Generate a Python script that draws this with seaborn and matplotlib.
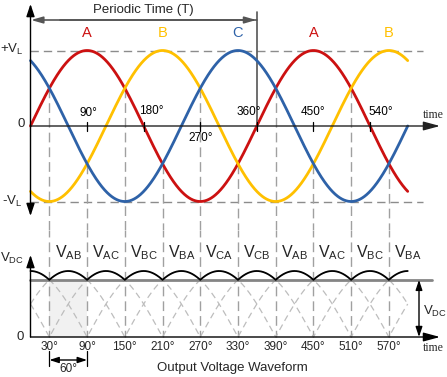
import numpy as np
import pandas as pd
import matplotlib
matplotlib.use("Agg")
import matplotlib.pyplot as plt
import seaborn as sns

# ---------------- data ----------------
phase_names = ["A", "B", "C"]
phase_shift_deg = [0, -120, 120]          # A starts rising at 0, C at +0.866, B at -0.866
phase_colors = ["#CC1111", "#FFC000", "#2E62A8"]
theta_end_deg = 600                        # waveforms are drawn from 0 to 600 degrees

peak_labels = ["A", "B", "C", "A", "B"]
peak_label_deg = [90, 210, 330, 450, 570]

top_tick_deg = [90, 180, 270, 360, 450, 540]
top_tick_labels = ["90°", "180°", "270°", "360°", "450°", "540°"]

crossing_deg = [30, 90, 150, 210, 270, 330, 390, 450, 510, 570]
bottom_tick_labels = ["30°", "90°", "150°", "210°", "270°", "330°", "390°", "450°", "510°", "570°"]

segment_labels = ["AB", "AC", "BC", "BA", "CA", "CB", "AB", "AC", "BC", "BA"]
segment_center_deg = [60, 120, 180, 240, 300, 360, 420, 480, 540, 600]
line_pairs = [("A", "B"), ("B", "C"), ("C", "A")]

period_deg = 360
# ---------------------------------------------------------------

sns.set_style("white")
plt.rcParams["font.family"] = ["Liberation Sans", "DejaVu Sans"]
plt.rcParams["mathtext.fontset"] = "custom"
plt.rcParams["mathtext.rm"] = "Liberation Sans"
plt.rcParams["mathtext.it"] = "Liberation Sans"
plt.rcParams["lines.scale_dashes"] = False

W, H = 447, 377
X0, PXD = 30.5, 0.6287          # pixel of 0 deg, pixels per degree
UY0, UA = 126.0, 75.5           # upper: zero pixel row, pixels per unit
LY0, LA = 337.0, 38.1           # lower: zero pixel row, pixels per unit
SPLIT = 230.0


def xd(px):
    return (px - X0) / PXD


def uy(py):
    return (UY0 - py) / UA


def ly(py):
    return (LY0 - py) / LA


fig = plt.figure(figsize=(W / 100, H / 100), dpi=100)
ax1 = fig.add_axes([0, (H - SPLIT) / H, 1, SPLIT / H])
ax2 = fig.add_axes([0, 0, 1, (H - SPLIT) / H])
for ax in (ax1, ax2):
    ax.set_xlim(xd(0), xd(W))
    ax.axis("off")
ax1.set_ylim(uy(SPLIT), uy(0))
ax2.set_ylim(ly(H), ly(SPLIT))

# phase waveforms
theta = np.linspace(0, theta_end_deg, 1201)
phase_vals = {n: np.sin(np.radians(theta + s)) for n, s in zip(phase_names, phase_shift_deg)}
df = pd.concat([pd.DataFrame({"theta": theta, "v": phase_vals[n], "phase": n}) for n in phase_names])
pal = dict(zip(phase_names, phase_colors))

# dashed reference lines +VL / -VL
for v in (1, -1):
    ax1.plot([0, xd(423)], [v, v], color="#8C8C8C", lw=1.0, linestyle=(0, (6, 3.6)), zorder=1)

# vertical dashed lines through crossings (upper part and lower part)
for d in crossing_deg:
    idx = int(round(d / theta_end_deg * (len(theta) - 1)))
    vals = sorted(phase_vals[n][idx] for n in phase_names)
    start = vals[1]
    ax1.plot([d, d], [start, uy(SPLIT)], color="#A0A0A0", lw=1.0, linestyle=(0, (7, 3.6)), zorder=1)
    ax2.plot([d, d], [ly(SPLIT), 0], color="#A0A0A0", lw=1.0, linestyle=(2, (7, 3.6)), zorder=1)

sns.lineplot(data=df, x="theta", y="v", hue="phase", palette=pal, ax=ax1,
             legend=False, linewidth=2.0, estimator=None, sort=False, zorder=3)
ax1.set_xlim(xd(0), xd(W))
ax1.set_ylim(uy(SPLIT), uy(0))
ax1.axis("off")

# axes arrows (upper)
ax1.annotate("", xy=(xd(440), 0), xytext=(0, 0),
             arrowprops=dict(arrowstyle="-|>,head_length=1.0,head_width=0.27", color="#222222",
                             lw=1.0, shrinkA=0, shrinkB=0), zorder=4)
ax1.annotate("", xy=(0, uy(4)), xytext=(0, uy(216)),
             arrowprops=dict(arrowstyle="<|-|>,head_length=0.75,head_width=0.25", color="black",
                             lw=1.0, shrinkA=0, shrinkB=0), zorder=4)
for d in top_tick_deg:
    ax1.plot([d, d], [uy(121.5), uy(130.5)], color="black", lw=0.9, zorder=4)

top_label_xy = [(xd(88), uy(113)), (xd(151), uy(111)), (xd(200.5), uy(138)),
                (xd(249), uy(112)), (xd(313), uy(112)), (xd(381), uy(112))]
for lab, (x, y) in zip(top_tick_labels, top_label_xy):
    ax1.text(x, y, lab, ha="center", va="center", fontsize=8.5, color="black", zorder=5)

ax1.text(xd(433), uy(115), "time", family=["Liberation Serif"], fontsize=8.5,
         ha="center", va="center")

ax1.text(xd(12), uy(49), r"+V$_\mathrm{L}$", ha="center", va="center", fontsize=9.5)
ax1.text(xd(21), uy(124), "0", ha="center", va="center", fontsize=9.5)
ax1.text(xd(12), uy(201), r"-V$_\mathrm{L}$", ha="center", va="center", fontsize=9.5)

for lab, d in zip(peak_labels, peak_label_deg):
    ax1.text(d, uy(33), lab, ha="center", va="center", fontsize=10.5, color=pal[lab])

# periodic time arrow
ax1.annotate("", xy=(xd(31), uy(20)), xytext=(period_deg, uy(20)),
             arrowprops=dict(arrowstyle="-|>,head_length=0.7,head_width=0.2", color="#555555",
                             lw=1.2, shrinkA=0, shrinkB=0))
ax1.annotate("", xy=(period_deg - 0.8, uy(20)), xytext=(xd(60), uy(20)),
             arrowprops=dict(arrowstyle="-|>,head_length=0.7,head_width=0.2", color="#555555",
                             lw=1.2, shrinkA=0, shrinkB=0))
ax1.plot([period_deg, period_deg], [uy(12), uy(130)], color="#555555", lw=1.2)
ax1.text(period_deg / 2, uy(10), "Periodic Time (T)", ha="center", va="center", fontsize=9.5)

# ---------------- lower plot: rectified output ----------------
ripple = np.max(np.vstack([phase_vals[n] for n in phase_names]), axis=0) - \
         np.min(np.vstack([phase_vals[n] for n in phase_names]), axis=0)
ldf = pd.concat([pd.DataFrame({"theta": theta, "v": np.abs(phase_vals[a] - phase_vals[b]),
                               "pair": a + b}) for a, b in line_pairs])
cusp = float(np.sqrt(3) * np.cos(np.radians(30)))

ax2.fill_between([30, 90], 0, cusp, color="#F1F1F1", lw=0, zorder=0)
sns.lineplot(data=ldf, x="theta", y="v", hue="pair",
             palette={a + b: "#BDBDBD" for a, b in line_pairs}, ax=ax2, legend=False,
             linewidth=0.9, estimator=None, sort=False, linestyle=(0, (4.5, 3)), zorder=1)
ax2.plot([0, xd(432)], [cusp, cusp], color="#858585", lw=2.0, zorder=2)
sns.lineplot(x=theta, y=ripple, ax=ax2, color="black", linewidth=1.3, estimator=None,
             sort=False, zorder=3)
ax2.set_xlim(xd(0), xd(W))
ax2.set_ylim(ly(H), ly(SPLIT))
ax2.axis("off")

ax2.annotate("", xy=(xd(440), 0), xytext=(0, 0),
             arrowprops=dict(arrowstyle="-|>,head_length=1.0,head_width=0.27", color="black",
                             lw=1.0, shrinkA=0, shrinkB=0), zorder=4)
ax2.annotate("", xy=(0, ly(255)), xytext=(0, 0),
             arrowprops=dict(arrowstyle="-|>,head_length=0.75,head_width=0.25", color="black",
                             lw=1.0, shrinkA=0, shrinkB=0), zorder=4)
ax2.annotate("", xy=(xd(419), 0), xytext=(xd(419), cusp),
             arrowprops=dict(arrowstyle="<|-|>,head_length=0.6,head_width=0.2", color="black",
                             lw=1.0, shrinkA=0, shrinkB=0), zorder=4)

for lab, d in zip(bottom_tick_labels, crossing_deg):
    ax2.text(d, ly(347), lab, ha="center", va="center", fontsize=8.5)
for lab, d in zip(segment_labels, segment_center_deg):
    ax2.text(d, ly(257), r"V$_\mathrm{%s}$" % lab, ha="center", va="baseline", fontsize=11.5)

ax2.text(xd(12), ly(262), r"V$_\mathrm{DC}$", ha="center", va="baseline", fontsize=9.5)
ax2.text(xd(435), ly(315), r"V$_\mathrm{DC}$", ha="center", va="baseline", fontsize=9.5)
ax2.text(xd(20), ly(337), "0", ha="center", va="center", fontsize=9.5)
ax2.text(xd(433), ly(348), "time", family=["Liberation Serif"], fontsize=8.5,
         ha="center", va="center")

# 60 degree span marker
ax2.annotate("", xy=(30, ly(360)), xytext=(90, ly(360)),
             arrowprops=dict(arrowstyle="<|-|>,head_length=0.55,head_width=0.18", color="black",
                             lw=1.0, shrinkA=0, shrinkB=0))
for d in (30, 90):
    ax2.plot([d, d], [ly(351), ly(366)], color="black", lw=0.9)
ax2.text(60, ly(369), "60°", ha="center", va="center", fontsize=8.5)
ax2.text(xd(232), ly(368), "Output Voltage Waveform", ha="center", va="center", fontsize=9.5)

fig.savefig("out.png", dpi=100)
